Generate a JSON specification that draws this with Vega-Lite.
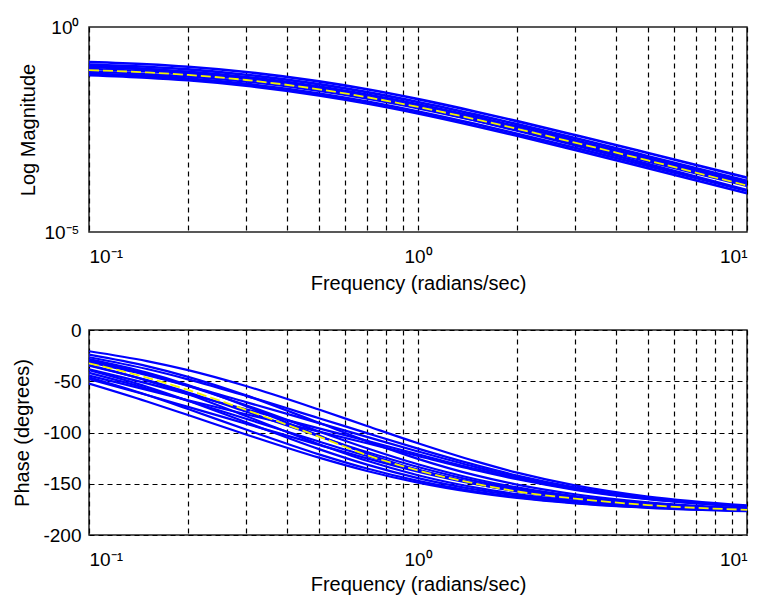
{
"$schema": "https://vega.github.io/schema/vega-lite/v6.json",
"background": "white",
"padding": {"left": 12, "top": 17, "right": 10, "bottom": 5},
"spacing": 26,
"datasets": {
"mag": [
{"w":0.1,"v":-0.853,"s":"m1"},{"w":0.15,"v":-0.909,"s":"m1"},{"w":0.2,"v":-0.971,"s":"m1"},{"w":0.3,"v":-1.098,"s":"m1"},{"w":0.5,"v":-1.327,"s":"m1"},{"w":0.7,"v":-1.520,"s":"m1"},{"w":1,"v":-1.759,"s":"m1"},{"w":1.5,"v":-2.065,"s":"m1"},{"w":2,"v":-2.296,"s":"m1"},{"w":3,"v":-2.635,"s":"m1"},{"w":5,"v":-3.073,"s":"m1"},{"w":10,"v":-3.675,"s":"m1"},
{"w":0.1,"v":-0.913,"s":"m2"},{"w":0.15,"v":-0.971,"s":"m2"},{"w":0.2,"v":-1.034,"s":"m2"},{"w":0.3,"v":-1.163,"s":"m2"},{"w":0.5,"v":-1.394,"s":"m2"},{"w":0.7,"v":-1.589,"s":"m2"},{"w":1,"v":-1.829,"s":"m2"},{"w":1.5,"v":-2.137,"s":"m2"},{"w":2,"v":-2.369,"s":"m2"},{"w":3,"v":-2.710,"s":"m2"},{"w":5,"v":-3.150,"s":"m2"},{"w":10,"v":-3.755,"s":"m2"},
{"w":0.1,"v":-0.973,"s":"m3"},{"w":0.15,"v":-1.030,"s":"m3"},{"w":0.2,"v":-1.093,"s":"m3"},{"w":0.3,"v":-1.220,"s":"m3"},{"w":0.5,"v":-1.450,"s":"m3"},{"w":0.7,"v":-1.645,"s":"m3"},{"w":1,"v":-1.884,"s":"m3"},{"w":1.5,"v":-2.191,"s":"m3"},{"w":2,"v":-2.423,"s":"m3"},{"w":3,"v":-2.762,"s":"m3"},{"w":5,"v":-3.201,"s":"m3"},{"w":10,"v":-3.805,"s":"m3"},
{"w":0.1,"v":-1.023,"s":"m4"},{"w":0.15,"v":-1.080,"s":"m4"},{"w":0.2,"v":-1.143,"s":"m4"},{"w":0.3,"v":-1.270,"s":"m4"},{"w":0.5,"v":-1.500,"s":"m4"},{"w":0.7,"v":-1.695,"s":"m4"},{"w":1,"v":-1.934,"s":"m4"},{"w":1.5,"v":-2.241,"s":"m4"},{"w":2,"v":-2.473,"s":"m4"},{"w":3,"v":-2.812,"s":"m4"},{"w":5,"v":-3.251,"s":"m4"},{"w":10,"v":-3.855,"s":"m4"},
{"w":0.1,"v":-1.093,"s":"m5"},{"w":0.15,"v":-1.145,"s":"m5"},{"w":0.2,"v":-1.205,"s":"m5"},{"w":0.3,"v":-1.328,"s":"m5"},{"w":0.5,"v":-1.553,"s":"m5"},{"w":0.7,"v":-1.744,"s":"m5"},{"w":1,"v":-1.979,"s":"m5"},{"w":1.5,"v":-2.281,"s":"m5"},{"w":2,"v":-2.510,"s":"m5"},{"w":3,"v":-2.845,"s":"m5"},{"w":5,"v":-3.279,"s":"m5"},{"w":10,"v":-3.875,"s":"m5"},
{"w":0.1,"v":-1.133,"s":"m6"},{"w":0.15,"v":-1.192,"s":"m6"},{"w":0.2,"v":-1.257,"s":"m6"},{"w":0.3,"v":-1.387,"s":"m6"},{"w":0.5,"v":-1.621,"s":"m6"},{"w":0.7,"v":-1.817,"s":"m6"},{"w":1,"v":-2.059,"s":"m6"},{"w":1.5,"v":-2.368,"s":"m6"},{"w":2,"v":-2.602,"s":"m6"},{"w":3,"v":-2.944,"s":"m6"},{"w":5,"v":-3.387,"s":"m6"},{"w":10,"v":-3.995,"s":"m6"},
{"w":0.1,"v":-1.173,"s":"m7"},{"w":0.15,"v":-1.234,"s":"m7"},{"w":0.2,"v":-1.300,"s":"m7"},{"w":0.3,"v":-1.432,"s":"m7"},{"w":0.5,"v":-1.668,"s":"m7"},{"w":0.7,"v":-1.866,"s":"m7"},{"w":1,"v":-2.109,"s":"m7"},{"w":1.5,"v":-2.420,"s":"m7"},{"w":2,"v":-2.655,"s":"m7"},{"w":3,"v":-2.999,"s":"m7"},{"w":5,"v":-3.444,"s":"m7"},{"w":10,"v":-4.055,"s":"m7"},
{"w":0.1,"v":-0.953,"s":"m8"},{"w":0.15,"v":-1.026,"s":"m8"},{"w":0.2,"v":-1.101,"s":"m8"},{"w":0.3,"v":-1.246,"s":"m8"},{"w":0.5,"v":-1.497,"s":"m8"},{"w":0.7,"v":-1.705,"s":"m8"},{"w":1,"v":-1.959,"s":"m8"},{"w":1.5,"v":-2.282,"s":"m8"},{"w":2,"v":-2.526,"s":"m8"},{"w":3,"v":-2.883,"s":"m8"},{"w":5,"v":-3.343,"s":"m8"},{"w":10,"v":-3.975,"s":"m8"},
{"w":0.1,"v":-1.053,"s":"nominal"},{"w":0.15,"v":-1.107,"s":"nominal"},{"w":0.2,"v":-1.168,"s":"nominal"},{"w":0.3,"v":-1.293,"s":"nominal"},{"w":0.5,"v":-1.520,"s":"nominal"},{"w":0.7,"v":-1.712,"s":"nominal"},{"w":1,"v":-1.949,"s":"nominal"},{"w":1.5,"v":-2.253,"s":"nominal"},{"w":2,"v":-2.483,"s":"nominal"},{"w":3,"v":-2.820,"s":"nominal"},{"w":5,"v":-3.256,"s":"nominal"},{"w":10,"v":-3.870,"s":"nominal"}
],
"ph": [
{"w":0.1,"p":-52.34,"s":"AF"},{"w":0.15,"p":-69.77,"s":"AF"},{"w":0.2,"p":-83.00,"s":"AF"},{"w":0.3,"p":-101.89,"s":"AF"},{"w":0.5,"p":-124.51,"s":"AF"},{"w":0.7,"p":-137.53,"s":"AF"},{"w":1,"p":-148.93,"s":"AF"},{"w":1.5,"p":-158.73,"s":"AF"},{"w":2,"p":-163.89,"s":"AF"},{"w":3,"p":-169.18,"s":"AF"},{"w":5,"p":-173.49,"s":"AF"},{"w":10,"p":-176.73,"s":"AF"},
{"w":0.1,"p":-47.94,"s":"AG"},{"w":0.15,"p":-63.43,"s":"AG"},{"w":0.2,"p":-74.99,"s":"AG"},{"w":0.3,"p":-91.40,"s":"AG"},{"w":0.5,"p":-112.04,"s":"AG"},{"w":0.7,"p":-125.27,"s":"AG"},{"w":1,"p":-138.17,"s":"AG"},{"w":1.5,"p":-150.45,"s":"AG"},{"w":2,"p":-157.28,"s":"AG"},{"w":3,"p":-164.58,"s":"AG"},{"w":5,"p":-170.66,"s":"AG"},{"w":10,"p":-175.31,"s":"AG"},
{"w":0.1,"p":-44.57,"s":"AH"},{"w":0.15,"p":-58.47,"s":"AH"},{"w":0.2,"p":-68.50,"s":"AH"},{"w":0.3,"p":-82.24,"s":"AH"},{"w":0.5,"p":-99.12,"s":"AH"},{"w":0.7,"p":-110.53,"s":"AH"},{"w":1,"p":-122.97,"s":"AH"},{"w":1.5,"p":-136.77,"s":"AH"},{"w":2,"p":-145.61,"s":"AH"},{"w":3,"p":-155.91,"s":"AH"},{"w":5,"p":-165.13,"s":"AH"},{"w":10,"p":-172.47,"s":"AH"},
{"w":0.1,"p":-46.22,"s":"BF"},{"w":0.15,"p":-63.43,"s":"BF"},{"w":0.2,"p":-77.09,"s":"BF"},{"w":0.3,"p":-97.12,"s":"BF"},{"w":0.5,"p":-121.31,"s":"BF"},{"w":0.7,"p":-135.17,"s":"BF"},{"w":1,"p":-147.24,"s":"BF"},{"w":1.5,"p":-157.59,"s":"BF"},{"w":2,"p":-163.03,"s":"BF"},{"w":3,"p":-168.61,"s":"BF"},{"w":5,"p":-173.14,"s":"BF"},{"w":10,"p":-176.56,"s":"BF"},
{"w":0.1,"p":-41.82,"s":"BG"},{"w":0.15,"p":-57.09,"s":"BG"},{"w":0.2,"p":-69.08,"s":"BG"},{"w":0.3,"p":-86.63,"s":"BG"},{"w":0.5,"p":-108.84,"s":"BG"},{"w":0.7,"p":-122.91,"s":"BG"},{"w":1,"p":-136.48,"s":"BG"},{"w":1.5,"p":-149.31,"s":"BG"},{"w":2,"p":-156.42,"s":"BG"},{"w":3,"p":-164.01,"s":"BG"},{"w":5,"p":-170.31,"s":"BG"},{"w":10,"p":-175.14,"s":"BG"},
{"w":0.1,"p":-38.45,"s":"BH"},{"w":0.15,"p":-52.13,"s":"BH"},{"w":0.2,"p":-62.59,"s":"BH"},{"w":0.3,"p":-77.47,"s":"BH"},{"w":0.5,"p":-95.92,"s":"BH"},{"w":0.7,"p":-108.17,"s":"BH"},{"w":1,"p":-121.28,"s":"BH"},{"w":1.5,"p":-135.63,"s":"BH"},{"w":2,"p":-144.75,"s":"BH"},{"w":3,"p":-155.34,"s":"BH"},{"w":5,"p":-164.78,"s":"BH"},{"w":10,"p":-172.30,"s":"BH"},
{"w":0.1,"p":-39.10,"s":"CF"},{"w":0.15,"p":-55.30,"s":"CF"},{"w":0.2,"p":-68.96,"s":"CF"},{"w":0.3,"p":-90.00,"s":"CF"},{"w":0.5,"p":-116.21,"s":"CF"},{"w":0.7,"p":-131.31,"s":"CF"},{"w":1,"p":-144.46,"s":"CF"},{"w":1.5,"p":-155.71,"s":"CF"},{"w":2,"p":-161.61,"s":"CF"},{"w":3,"p":-167.66,"s":"CF"},{"w":5,"p":-172.57,"s":"CF"},{"w":10,"p":-176.27,"s":"CF"},
{"w":0.1,"p":-34.70,"s":"CG"},{"w":0.15,"p":-48.96,"s":"CG"},{"w":0.2,"p":-60.95,"s":"CG"},{"w":0.3,"p":-79.51,"s":"CG"},{"w":0.5,"p":-103.74,"s":"CG"},{"w":0.7,"p":-119.05,"s":"CG"},{"w":1,"p":-133.70,"s":"CG"},{"w":1.5,"p":-147.43,"s":"CG"},{"w":2,"p":-155.00,"s":"CG"},{"w":3,"p":-163.06,"s":"CG"},{"w":5,"p":-169.74,"s":"CG"},{"w":10,"p":-174.85,"s":"CG"},
{"w":0.1,"p":-31.33,"s":"CH"},{"w":0.15,"p":-44.00,"s":"CH"},{"w":0.2,"p":-54.46,"s":"CH"},{"w":0.3,"p":-70.35,"s":"CH"},{"w":0.5,"p":-90.82,"s":"CH"},{"w":0.7,"p":-104.31,"s":"CH"},{"w":1,"p":-118.50,"s":"CH"},{"w":1.5,"p":-133.75,"s":"CH"},{"w":2,"p":-143.33,"s":"CH"},{"w":3,"p":-154.39,"s":"CH"},{"w":5,"p":-164.21,"s":"CH"},{"w":10,"p":-172.01,"s":"CH"},
{"w":0.1,"p":-34.33,"s":"DF"},{"w":0.15,"p":-49.39,"s":"DF"},{"w":0.2,"p":-62.62,"s":"DF"},{"w":0.3,"p":-83.88,"s":"DF"},{"w":0.5,"p":-111.44,"s":"DF"},{"w":0.7,"p":-127.61,"s":"DF"},{"w":1,"p":-141.73,"s":"DF"},{"w":1.5,"p":-153.84,"s":"DF"},{"w":2,"p":-160.19,"s":"DF"},{"w":3,"p":-166.71,"s":"DF"},{"w":5,"p":-172.00,"s":"DF"},{"w":10,"p":-175.99,"s":"DF"},
{"w":0.1,"p":-29.93,"s":"DG"},{"w":0.15,"p":-43.05,"s":"DG"},{"w":0.2,"p":-54.61,"s":"DG"},{"w":0.3,"p":-73.39,"s":"DG"},{"w":0.5,"p":-98.97,"s":"DG"},{"w":0.7,"p":-115.35,"s":"DG"},{"w":1,"p":-130.97,"s":"DG"},{"w":1.5,"p":-145.56,"s":"DG"},{"w":2,"p":-153.58,"s":"DG"},{"w":3,"p":-162.11,"s":"DG"},{"w":5,"p":-169.17,"s":"DG"},{"w":10,"p":-174.57,"s":"DG"},
{"w":0.1,"p":-26.56,"s":"DH"},{"w":0.15,"p":-38.09,"s":"DH"},{"w":0.2,"p":-48.12,"s":"DH"},{"w":0.3,"p":-64.23,"s":"DH"},{"w":0.5,"p":-86.05,"s":"DH"},{"w":0.7,"p":-100.61,"s":"DH"},{"w":1,"p":-115.77,"s":"DH"},{"w":1.5,"p":-131.88,"s":"DH"},{"w":2,"p":-141.91,"s":"DH"},{"w":3,"p":-153.44,"s":"DH"},{"w":5,"p":-163.64,"s":"DH"},{"w":10,"p":-171.73,"s":"DH"},
{"w":0.1,"p":-28.48,"s":"EF"},{"w":0.15,"p":-41.63,"s":"EF"},{"w":0.2,"p":-53.70,"s":"EF"},{"w":0.3,"p":-74.29,"s":"EF"},{"w":0.5,"p":-103.02,"s":"EF"},{"w":0.7,"p":-120.69,"s":"EF"},{"w":1,"p":-136.48,"s":"EF"},{"w":1.5,"p":-150.17,"s":"EF"},{"w":2,"p":-157.39,"s":"EF"},{"w":3,"p":-164.82,"s":"EF"},{"w":5,"p":-170.86,"s":"EF"},{"w":10,"p":-175.42,"s":"EF"},
{"w":0.1,"p":-24.08,"s":"EG"},{"w":0.15,"p":-35.29,"s":"EG"},{"w":0.2,"p":-45.69,"s":"EG"},{"w":0.3,"p":-63.80,"s":"EG"},{"w":0.5,"p":-90.55,"s":"EG"},{"w":0.7,"p":-108.43,"s":"EG"},{"w":1,"p":-125.72,"s":"EG"},{"w":1.5,"p":-141.89,"s":"EG"},{"w":2,"p":-150.78,"s":"EG"},{"w":3,"p":-160.22,"s":"EG"},{"w":5,"p":-168.03,"s":"EG"},{"w":10,"p":-174.00,"s":"EG"},
{"w":0.1,"p":-20.71,"s":"EH"},{"w":0.15,"p":-30.33,"s":"EH"},{"w":0.2,"p":-39.20,"s":"EH"},{"w":0.3,"p":-54.64,"s":"EH"},{"w":0.5,"p":-77.63,"s":"EH"},{"w":0.7,"p":-93.69,"s":"EH"},{"w":1,"p":-110.52,"s":"EH"},{"w":1.5,"p":-128.21,"s":"EH"},{"w":2,"p":-139.11,"s":"EH"},{"w":3,"p":-151.55,"s":"EH"},{"w":5,"p":-162.50,"s":"EH"},{"w":10,"p":-171.16,"s":"EH"},
{"w":0.1,"p":-32.5,"s":"nominal"},{"w":0.15,"p":-46.5,"s":"nominal"},{"w":0.2,"p":-58.5,"s":"nominal"},{"w":0.3,"p":-78.0,"s":"nominal"},{"w":0.5,"p":-104.0,"s":"nominal"},{"w":0.7,"p":-122.0,"s":"nominal"},{"w":1,"p":-137.0,"s":"nominal"},{"w":1.5,"p":-150.0,"s":"nominal"},{"w":2,"p":-157.5,"s":"nominal"},{"w":3,"p":-164.5,"s":"nominal"},{"w":5,"p":-170.8,"s":"nominal"},{"w":10,"p":-175.5,"s":"nominal"}
]
},
"vconcat": [
{
"width": 658, "height": 205,
"data": {"name": "mag"},
"encoding": {
"x": {"field": "w", "type": "quantitative", "scale": {"type": "log", "domain": [0.1, 10], "nice": false},
"axis": {"title": "Frequency (radians/sec)", "values": [0.1,0.2,0.3,0.4,0.5,0.6,0.7,0.8,0.9,1,2,3,4,5,6,7,8,9,10],
"labelExpr": "datum.value == 0.1 ? '10⁻¹' : (datum.value == 1 ? '10⁰' : (datum.value == 10 ? '10¹' : ''))",
"grid": true, "labelOverlap": false, "labelPadding": 15, "titlePadding": 7}},
"y": {"field": "v", "type": "quantitative", "scale": {"domain": [-5, 0], "nice": false, "zero": false},
"axis": {"title": "Log Magnitude", "values": [-5, 0], "grid": false,
"labelExpr": "datum.value == 0 ? '10⁰' : '10⁻⁵'", "labelPadding": 10, "titlePadding": 5}}
},
"layer": [
{"transform": [{"filter": "datum.s != 'nominal'"}], "mark": {"type": "line", "color": "#0000ff", "strokeWidth": 2.6, "interpolate": "monotone", "clip": true}, "encoding": {"detail": {"field": "s"}}},
{"transform": [{"filter": "datum.s == 'nominal'"}], "mark": {"type": "line", "color": "#f2f200", "strokeWidth": 1.8, "strokeDash": [10, 4], "interpolate": "monotone", "clip": true}, "encoding": {}}
]
},
{
"width": 658, "height": 205,
"data": {"name": "ph"},
"encoding": {
"x": {"field": "w", "type": "quantitative", "scale": {"type": "log", "domain": [0.1, 10], "nice": false},
"axis": {"title": "Frequency (radians/sec)", "values": [0.1,0.2,0.3,0.4,0.5,0.6,0.7,0.8,0.9,1,2,3,4,5,6,7,8,9,10],
"labelExpr": "datum.value == 0.1 ? '10⁻¹' : (datum.value == 1 ? '10⁰' : (datum.value == 10 ? '10¹' : ''))",
"grid": true, "labelOverlap": false, "labelPadding": 15, "titlePadding": 5}},
"y": {"field": "p", "type": "quantitative", "scale": {"domain": [-200, 0], "nice": false, "zero": false},
"axis": {"title": "Phase (degrees)", "values": [-200, -150, -100, -50, 0], "grid": true, "labelPadding": 8, "titlePadding": 10,
"labelExpr": "replace(datum.label, '−', '-')"}}
},
"layer": [
{"transform": [{"filter": "datum.s != 'nominal'"}], "mark": {"type": "line", "color": "#0000ff", "strokeWidth": 2.2, "interpolate": "monotone", "clip": true}, "encoding": {"detail": {"field": "s"}}},
{"transform": [{"filter": "datum.s == 'nominal'"}], "mark": {"type": "line", "color": "#f2f200", "strokeWidth": 1.8, "strokeDash": [10, 4], "interpolate": "monotone", "clip": true}, "encoding": {}}
]
}
],
"config": {
"view": {"stroke": "#222222", "strokeWidth": 1.5},
"axis": {"labelFont": "Liberation Sans", "titleFont": "Liberation Sans", "labelFontSize": 19, "titleFontSize": 20, "titleFontWeight": "normal", "labelColor": "#000000", "titleColor": "#000000", "ticks": false, "domain": false, "gridColor": "#000000", "gridDash": [5, 4], "gridOpacity": 1, "gridWidth": 1.2}
}
}
